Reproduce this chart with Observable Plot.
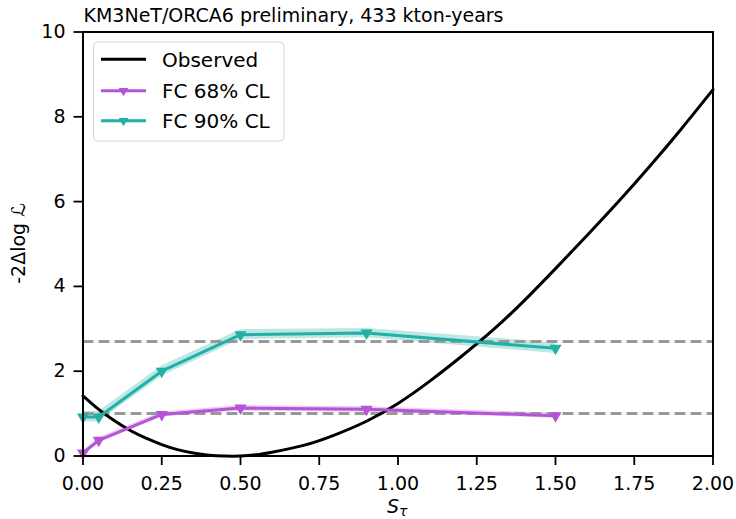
<!DOCTYPE html>
<html>
<head>
<meta charset="utf-8">
<script src="https://cdn.jsdelivr.net/npm/d3@7"></script>
<script src="https://cdn.jsdelivr.net/npm/@observablehq/plot@0.6"></script>
<style>
  html, body { margin: 0; padding: 0; background: white; }
  #chart { position: relative; width: 736px; height: 519px; }
</style>
</head>
<body>
<div id="chart"></div>
<script>
// ---- data ----
const titleText = "KM3NeT/ORCA6 preliminary, 433 kton-years";
const xTicks = [0, 0.25, 0.5, 0.75, 1.0, 1.25, 1.5, 1.75, 2.0];
const yTicks = [0, 2, 4, 6, 8, 10];
const clLevels = [1.0, 2.7];

// Observed profile
const obsS  = [0, 0.05, 0.1, 0.15, 0.2, 0.25, 0.3, 0.35, 0.4, 0.45, 0.5, 0.55, 0.6, 0.7, 0.8, 0.9, 1.0, 1.1, 1.2, 1.3, 1.4, 1.5, 1.6, 1.7, 1.8, 1.9, 2.0];
const obsLL = [1.42, 1.1, 0.83, 0.6, 0.42, 0.27, 0.15, 0.07, 0.02, 0.0, 0.0, 0.03, 0.09, 0.25, 0.5, 0.82, 1.24, 1.76, 2.34, 2.96, 3.66, 4.42, 5.2, 6.0, 6.84, 7.72, 8.64];

// Feldman-Cousins critical values
const fcS     = [0, 0.05, 0.25, 0.5, 0.9, 1.5];
const fc68    = [0.07, 0.37, 0.98, 1.13, 1.10, 0.95];
const fc68Lo  = [0.02, 0.31, 0.92, 1.06, 1.03, 0.89];
const fc68Hi  = [0.12, 0.43, 1.04, 1.19, 1.16, 1.01];
const fc90    = [0.92, 0.92, 2.0, 2.86, 2.90, 2.54];
const fc90Lo  = [0.80, 0.80, 1.88, 2.75, 2.79, 2.42];
const fc90Hi  = [1.05, 1.05, 2.12, 2.98, 3.01, 2.67];

const purple = "#b653d6";
const teal = "#22b0a6";

const obs = obsS.map((s, i) => ({s, v: obsLL[i]}));
const t68 = fcS.map((s, i) => ({s, v: fc68[i], lo: fc68Lo[i], hi: fc68Hi[i]}));
const t90 = fcS.map((s, i) => ({s, v: fc90[i], lo: fc90Lo[i], hi: fc90Hi[i]}));

const W = 736, H = 519;
const mL = 82.5, mR = 23.5, mT = 31.5, mB = 63.5;

const plot = Plot.plot({
  width: W, height: H,
  marginLeft: mL, marginRight: mR, marginTop: mT, marginBottom: mB,
  x: {domain: [0, 2]},
  y: {domain: [0, 10]},
  style: {fontFamily: "DejaVu Sans", fontSize: "19px", color: "black", background: "white", overflow: "visible"},
  marks: [
    Plot.areaY(t90, {x: "s", y1: "lo", y2: "hi", fill: teal, fillOpacity: 0.3}),
    Plot.areaY(t68, {x: "s", y1: "lo", y2: "hi", fill: purple, fillOpacity: 0.3}),
    Plot.ruleY(clLevels, {stroke: "#999999", strokeWidth: 3, strokeDasharray: "11,5"}),
    Plot.line(obs, {x: "s", y: "v", stroke: "black", strokeWidth: 3, curve: "natural"}),
    Plot.line(t68, {x: "s", y: "v", stroke: purple, strokeWidth: 3}),
    Plot.dot(t68, {x: "s", y: "v", symbol: "triangle", r: 4.5, rotate: 180, fill: purple, stroke: "none"}),
    Plot.line(t90, {x: "s", y: "v", stroke: teal, strokeWidth: 3}),
    Plot.dot(t90, {x: "s", y: "v", symbol: "triangle", r: 4.5, rotate: 180, fill: teal, stroke: "none"}),
    Plot.frame({stroke: "black", strokeWidth: 2}),
    Plot.axisX({ticks: xTicks, tickFormat: d => d.toFixed(2), tickSize: 9.5, tickPadding: 11, strokeWidth: 1.8, label: null, fontSize: 19}),
    Plot.axisY({ticks: yTicks, tickFormat: d => String(d), tickSize: 9, tickPadding: 8.5, strokeWidth: 1.8, label: null, fontSize: 19}),
    Plot.text([titleText], {frameAnchor: "top-left", dx: 0.5, dy: -10.5, lineAnchor: "bottom", textAnchor: "start", fontSize: 19, fill: "black"})
  ]
});

document.getElementById("chart").appendChild(plot);

const svg = d3.select(plot);

// y-axis label
svg.append("text")
  .attr("transform", `translate(25, ${(mT + H - mB) / 2}) rotate(-90)`)
  .attr("text-anchor", "middle")
  .attr("font-family", "DejaVu Sans")
  .attr("font-size", 19)
  .attr("fill", "black")
  .text("-2Δlog ℒ");

// x-axis label with subscript
const xl = svg.append("text")
  .attr("x", 387).attr("y", 512.5)
  .attr("text-anchor", "start")
  .attr("font-family", "DejaVu Sans")
  .attr("font-size", 19)
  .attr("fill", "black");
xl.append("tspan").attr("font-style", "italic").text("S");
xl.append("tspan").attr("font-size", 14).attr("font-style", "italic").attr("dy", 3).text("τ");

// legend
const lg = svg.append("g");
lg.append("rect")
  .attr("x", 93.5).attr("y", 42).attr("width", 190.5).attr("height", 99)
  .attr("rx", 4).attr("fill", "white").attr("fill-opacity", 0.8)
  .attr("stroke", "#d6d6d6").attr("stroke-width", 1);
const rows = [
  {label: "Observed", color: "black", marker: false, y: 59.3},
  {label: "FC 68% CL", color: purple, marker: true, y: 90.7},
  {label: "FC 90% CL", color: teal, marker: true, y: 120.7}
];
rows.forEach(r => {
  lg.append("line").attr("x1", 101).attr("x2", 146).attr("y1", r.y).attr("y2", r.y)
    .attr("stroke", r.color).attr("stroke-width", 3);
  if (r.marker) {
    const cx = 123.5, k = 2.8;
    lg.append("path")
      .attr("d", `M${cx - Math.sqrt(3) * k},${r.y - k} L${cx + Math.sqrt(3) * k},${r.y - k} L${cx},${r.y + 2 * k} Z`)
      .attr("fill", r.color);
  }
  lg.append("text").attr("x", 162).attr("y", r.y + 7.3)
    .attr("text-anchor", "start")
    .attr("font-family", "DejaVu Sans").attr("font-size", 20).attr("fill", "black")
    .text(r.label);
});
</script>
</body>
</html>
